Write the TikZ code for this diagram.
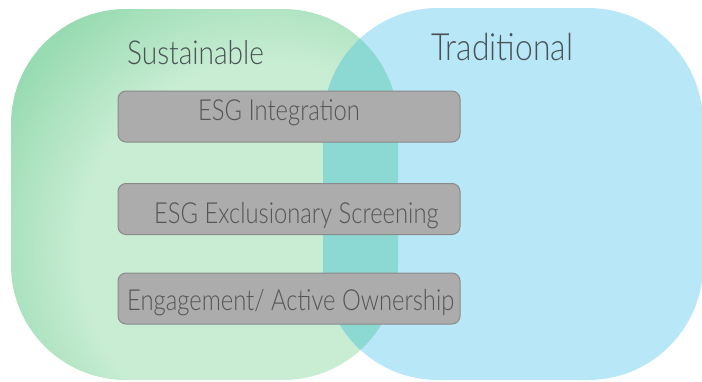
\documentclass[tikz,border=0pt]{standalone}
\usepackage{fontspec}
\usepackage{graphicx}
\setmainfont{Lato Light}

\definecolor{gdark}{HTML}{98DBB2}
\definecolor{glight}{HTML}{C9EDD3}
\definecolor{bluefill}{HTML}{B8E7F8}
\definecolor{tealfill}{HTML}{8CD8D2}
\definecolor{boxfill}{HTML}{ACACAC}
\definecolor{boxline}{HTML}{8A8A8A}
\definecolor{boxtext}{HTML}{555555}
\definecolor{titletext}{HTML}{4A5255}

% soft glow inside the green set
\pgfdeclareradialshading{greenglow}{\pgfpointorigin}{%
  color(0bp)=(glight); color(15bp)=(glight);
  color(24bp)=(gdark); color(50bp)=(gdark)}

\newcommand{\narrowtext}[2]{\scalebox{#1}[1]{#2}}

\begin{document}
\begin{tikzpicture}[x=1pt, y=-1pt,
  setshape/.style={rounded corners=115pt},
  itembox/.style={draw=boxline, fill=boxfill, line width=1pt,
    rounded corners=8pt, minimum width=342pt, minimum height=51pt,
    inner sep=0pt},
  itemtext/.style={anchor=base west, inner sep=0pt, text=boxtext,
    font=\fontsize{29}{32}\selectfont},
  settitle/.style={anchor=base west, inner sep=0pt, text=titletext}]

  \useasboundingbox (0,0) rectangle (702,381);
  \fill[white] (0,0) rectangle (702,381);

  % sustainable set
  \begin{scope}
    \clip[setshape] (11,9) rectangle (398,380);
    \shade[shading=greenglow] (268,250) circle (311);
  \end{scope}

  % traditional set
  \fill[bluefill, setshape] (323,8) rectangle (703,380);

  % overlap of the two sets
  \begin{scope}
    \clip[setshape] (11,9) rectangle (398,380);
    \fill[tealfill, setshape] (323,8) rectangle (703,380);
  \end{scope}

  % set titles
  \node[settitle, font=\fontsize{33}{36}\selectfont] (sust) at (127,64)
    {\narrowtext{0.85}{Sustainable}};
  \node[settitle, font=\fontsize{37.5}{40}\selectfont] (trad) at (431,60)
    {\narrowtext{0.85}{Traditional}};

  % approaches
  \node[itembox] (integ) at (289,116.5) {};
  \node[itembox] (excl) at (289,209) {};
  \node[itembox] (engage) at (289,298.5) {};

  \node[itemtext] (integt) at (198,120) {\narrowtext{0.82}{ESG Integration}};
  \node[itemtext] (exclt) at (154,223) {\narrowtext{0.82}{ESG Exclusionary Screening}};
  \node[itemtext] (engaget) at (127,310) {\narrowtext{0.82}{Engagement/ Active Ownership}};
\end{tikzpicture}
\end{document}
